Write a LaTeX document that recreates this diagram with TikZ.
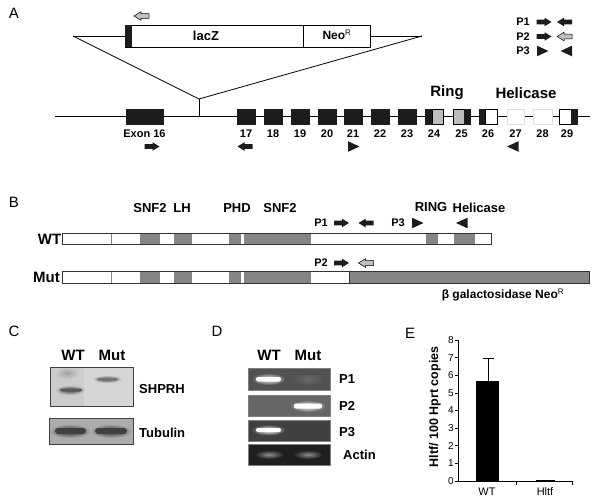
\documentclass[tikz,border=0pt]{standalone}
\usepackage{fontspec}
\setmainfont{Liberation Sans}
\usetikzlibrary{arrows.meta}
\definecolor{exblk}{HTML}{1C1C1C}
\definecolor{exgry}{HTML}{BDBDBD}
\definecolor{domgry}{HTML}{858585}
\definecolor{garr}{HTML}{BFBFBF}
\begin{document}
\begin{tikzpicture}[x=1pt,y=-1pt,
  panel/.style={font=\fontsize{15}{18}\selectfont, inner sep=0pt},
  bigb/.style={font=\bfseries\fontsize{15}{18}\selectfont, inner sep=0pt},
  midb/.style={font=\bfseries\fontsize{13}{15}\selectfont, inner sep=0pt},
  smb/.style={font=\bfseries\fontsize{11}{13}\selectfont, inner sep=0pt},
  tick/.style={font=\fontsize{10}{12}\selectfont, inner sep=0pt},
  exon/.style={fill=exblk, draw=exblk, line width=0.5},
  blockR/.pic={\path[pic actions] (-7.5,-2.3) -- (0.5,-2.3) -- (0.5,-4.3) -- (7.5,0) -- (0.5,4.3) -- (0.5,2.3) -- (-7.5,2.3) -- cycle;},
  blockL/.pic={\path[pic actions] (7.5,-2.3) -- (-0.5,-2.3) -- (-0.5,-4.3) -- (-7.5,0) -- (-0.5,4.3) -- (-0.5,2.3) -- (7.5,2.3) -- cycle;},
  triR/.pic={\path[pic actions] (-5.5,-5.3) -- (6,0) -- (-5.5,5.3) -- cycle;},
  triL/.pic={\path[pic actions] (5.5,-5.3) -- (-6,0) -- (5.5,5.3) -- cycle;},
  blk/.style={fill=exblk},
  gry/.style={fill=garr, draw=black, line width=0.5}
]
\useasboundingbox[fill=white] (0,0) rectangle (600,501);

% ---------------- Panel A ----------------
\node[panel] (labA) at (14,13) {A};
\draw[line width=0.8] (55,116.5) -- (590,116.5);
\coordinate (insL) at (73,36);
\coordinate (insR) at (422,36);
\coordinate (insP) at (199,99);
\coordinate (insB) at (199,116.5);
\draw[line width=0.8] (insL) -- (125,36);
\draw[line width=0.8] (370,36) -- (insR);
\draw[line width=0.8] (insL) -- (insP) -- (insR);
\draw[line width=0.8] (insP) -- (insB);
\draw[fill=white, line width=0.8] (125,25) rectangle (370,47);
\fill[exblk] (125,25) rectangle (132,47);
\draw[line width=0.8] (303,25) -- (303,47);
\node[midb] (lacz) at (206,36) {lacZ};
\node[font=\bfseries\fontsize{12}{14}\selectfont, inner sep=0pt] (neo) at (337,35) {Neo\textsuperscript{\mdseries R}};
\pic[gry] at (141.5,16) {blockL};

% exons
\draw[exon] (126,109) rectangle (163,124);
\node[smb] (e16) at (144.5,133.5) {Exon 16};
\foreach \a/\b/\n in {237/255/17,264/282/18,291/309/19,318/336/20,344/362/21,371/389/22,398/416/23}{
  \draw[exon] (\a,109) rectangle (\b,124);
  \node[smb] (e\n) at ({(\a+\b)/2},133.5) {\n};
}
% 24
\draw[exon] (425,109) rectangle (432,124);
\draw[fill=exgry, line width=0.5] (432,109) rectangle (443,124);
\node[smb] (e24) at (434,133.5) {24};
% 25
\draw[fill=exgry, line width=0.5] (453,109) rectangle (464,124);
\draw[exon] (464,109) rectangle (470,124);
\node[smb] (e25) at (461.5,133.5) {25};
% 26
\draw[exon] (479,109) rectangle (485,124);
\draw[fill=white, line width=0.5] (485,109) rectangle (497,124);
\node[smb] (e26) at (488,133.5) {26};
% 27, 28
\draw[fill=white, draw=gray!25, line width=0.5] (507,109) rectangle (524,124);
\node[smb] (e27) at (515.5,133.5) {27};
\draw[fill=white, draw=gray!25, line width=0.5] (533,109) rectangle (552,124);
\node[smb] (e28) at (542.5,133.5) {28};
% 29
\draw[fill=white, line width=0.5] (559,109) rectangle (571,124);
\draw[exon] (571,109) rectangle (577,124);
\node[smb] (e29) at (567,133.5) {29};

\node[bigb] (ring) at (447,93) {Ring};
\node[bigb] (heli) at (526,93) {Helicase};

% primers under exons
\pic[blk] at (152,146.5) {blockR};
\pic[blk] at (245,146.5) {blockL};
\pic[blk] at (353.5,146.5) {triR};
\pic[blk] at (513,146.5) {triL};

% legend
\node[smb] (lp1) at (523,22) {P1};
\pic[blk] at (544,22) {blockR};
\pic[blk] at (564.5,22) {blockL};
\node[smb] (lp2) at (523,36.5) {P2};
\pic[blk] at (544,36.5) {blockR};
\pic[gry] at (564.5,36.5) {blockL};
\node[smb] (lp3) at (523,51) {P3};
\pic[blk] at (542.5,51) {triR};
\pic[blk] at (566.5,51) {triL};

% ---------------- Panel B ----------------
\node[panel] (labB) at (14,202) {B};
\node[midb] (d1) at (150,208) {SNF2};
\node[midb] (d2) at (182,208) {LH};
\node[midb] (d3) at (237,208) {PHD};
\node[midb] (d4) at (280,208) {SNF2};
\node[midb] (d5) at (431,207.5) {RING};
\node[midb] (d6) at (479,207.5) {Helicase};

% WT bar
\fill[white] (62,233) rectangle (491,244);
\foreach \a/\b in {140/160,174/192,229/241,244/311,426/438,454/474.5}{
  \fill[domgry] (\a,233) rectangle (\b,244);
}
\draw[domgry, line width=1] (111,233) -- (111,244);
\draw[line width=0.8, draw=black!80] (62,233) rectangle (491,244);
\node[bigb, anchor=east] (wtB) at (61.5,239) {WT};

% Mut bar
\fill[white] (62,271) rectangle (589,283);
\foreach \a/\b in {140/160,174/192,229/241,244/311,349/589}{
  \fill[domgry] (\a,271) rectangle (\b,283);
}
\draw[domgry, line width=1] (111,271) -- (111,283);
\draw[line width=0.8, draw=black!80] (349,271) -- (349,283);
\draw[line width=0.8, draw=black!80] (62,271) rectangle (589,283);
\node[bigb, anchor=east] (mutB) at (60,277.5) {Mut};

% primers B
\node[smb] (bp1) at (321,223) {P1};
\pic[blk] at (341.5,223) {blockR};
\pic[blk] at (366,223) {blockL};
\node[smb] (bp3) at (398,223) {P3};
\pic[blk] at (417.5,223) {triR};
\pic[blk] at (462,223) {triL};
\node[smb] (bp2) at (321,263) {P2};
\pic[blk] at (341.5,263) {blockR};
\pic[gry] at (366,263) {blockL};
\node[font=\bfseries\fontsize{12}{14}\selectfont, inner sep=0pt] (bgal) at (503,295) {β galactosidase Neo\textsuperscript{\mdseries R}};

% ---------------- Panel C ----------------
\node[panel] (labC) at (14,331) {C};
\node[bigb] (cwt) at (73,355) {WT};
\node[bigb] (cmut) at (112,355) {Mut};
% SHPRH blot
\fill[gray!32] (50,367) rectangle (133,406);
\fill[gray!40] (50,367) rectangle (84,406);
\shade[inner color=gray!75, outer color=gray!40] (67,373) ellipse (12 and 6);
\shade[inner color=black!75, outer color=gray!40] (70,390) ellipse (15 and 5);
\fill[black!65, rounded corners=2] (60,388.5) rectangle (82,391.5);
\shade[inner color=black!70, outer color=gray!32] (107,379) ellipse (15 and 4);
\fill[black!55, rounded corners=1.5] (97,378) rectangle (118,380.5);
\draw[line width=0.8, draw=black!75] (50,367) rectangle (133,406);
\node[midb, anchor=west] (shprh) at (139,389) {SHPRH};
% Tubulin blot
\fill[gray!65] (49,418) rectangle (133,444);
\shade[inner color=black!85, outer color=gray!65] (70,431) ellipse (21 and 7);
\shade[inner color=black!85, outer color=gray!65] (111,431) ellipse (21 and 7);
\fill[black!75, rounded corners=3] (55,428) rectangle (86,434);
\fill[black!75, rounded corners=3] (95,428) rectangle (127,434);
\draw[line width=0.8, draw=black!75] (49,418) rectangle (133,444);
\node[midb, anchor=west] (tub) at (139,433) {Tubulin};

% ---------------- Panel D ----------------
\node[panel] (labD) at (217,331) {D};
\node[bigb] (dwt) at (269,355) {WT};
\node[bigb] (dmut) at (308,355) {Mut};
% P1 gel
\fill[black!68] (248,368) rectangle (330,390);
\shade[inner color=black!58, outer color=black!68] (308,379) ellipse (16 and 6);
\shade[inner color=white, outer color=black!68] (268.5,379) ellipse (17 and 6);
\fill[white, rounded corners=2] (256,377) rectangle (281,381.5);
\draw[line width=0.8, draw=gray] (248,368) rectangle (330,390);
\node[midb, anchor=west] (dp1) at (339,379.5) {P1};
% P2 gel
\fill[black!60] (248,395) rectangle (330,416);
\shade[inner color=white, outer color=black!60] (308,406) ellipse (18 and 6);
\fill[white, rounded corners=2] (294,403.5) rectangle (322,408.5);
\draw[line width=0.8, draw=gray] (248,395) rectangle (330,416);
\node[midb, anchor=west] (dp2) at (339,406) {P2};
% P3 gel
\fill[black!75] (248,420) rectangle (330,441);
\shade[inner color=white, outer color=black!75] (268.5,430) ellipse (17 and 5.5);
\fill[white, rounded corners=2] (256,428) rectangle (281,432);
\draw[line width=0.8, draw=gray] (248,420) rectangle (330,441);
\node[midb, anchor=west] (dp3) at (339,432) {P3};
% Actin gel
\fill[black!88] (248,444) rectangle (330,465);
\shade[inner color=black!45, outer color=black!88] (269,454.5) ellipse (15 and 4.5);
\shade[inner color=black!45, outer color=black!88] (308,454.5) ellipse (15 and 4.5);
\draw[line width=0.8, draw=gray] (248,444) rectangle (330,465);
\node[midb, anchor=west] (dact) at (343,455) {Actin};

% ---------------- Panel E ----------------
\node[panel] (labE) at (410,333) {E};
\coordinate (ax0) at (458,481);
\coordinate (axT) at (458,340);
\coordinate (axR) at (572,481);
\draw[line width=0.7] (axT) -- (ax0) -- (axR);
\foreach \v in {0,...,8}{
  \draw[line width=0.7] (455,{481-\v*17.625}) -- (458,{481-\v*17.625});
  \node[tick, anchor=east] (yt\v) at (454,{481-\v*17.625}) {\v};
}
\draw[line width=0.7] (516,481) -- (516,485);
\draw[line width=0.7] (572,481) -- (572,485);
\fill[black] (476,{481-5.7*17.625}) rectangle (499,481);
\coordinate (ebB) at (488,{481-5.7*17.625});
\coordinate (ebT) at (488,{481-6.95*17.625});
\draw[line width=0.8] (ebB) -- (ebT);
\draw[line width=0.8] (482.5,{481-6.95*17.625}) -- (493.5,{481-6.95*17.625});
\fill[black] (536,479.6) rectangle (555,481);
\node[font=\fontsize{11}{13}\selectfont, inner sep=0pt] (ewt) at (487,492) {WT};
\node[font=\fontsize{11}{13}\selectfont, inner sep=0pt] (ehl) at (545,492) {Hltf};
\node[font=\bfseries\fontsize{12.5}{15}\selectfont, inner sep=0pt, rotate=90] (ylab) at (435,407) {Hltf/ 100 Hprt copies};
\end{tikzpicture}
\end{document}
